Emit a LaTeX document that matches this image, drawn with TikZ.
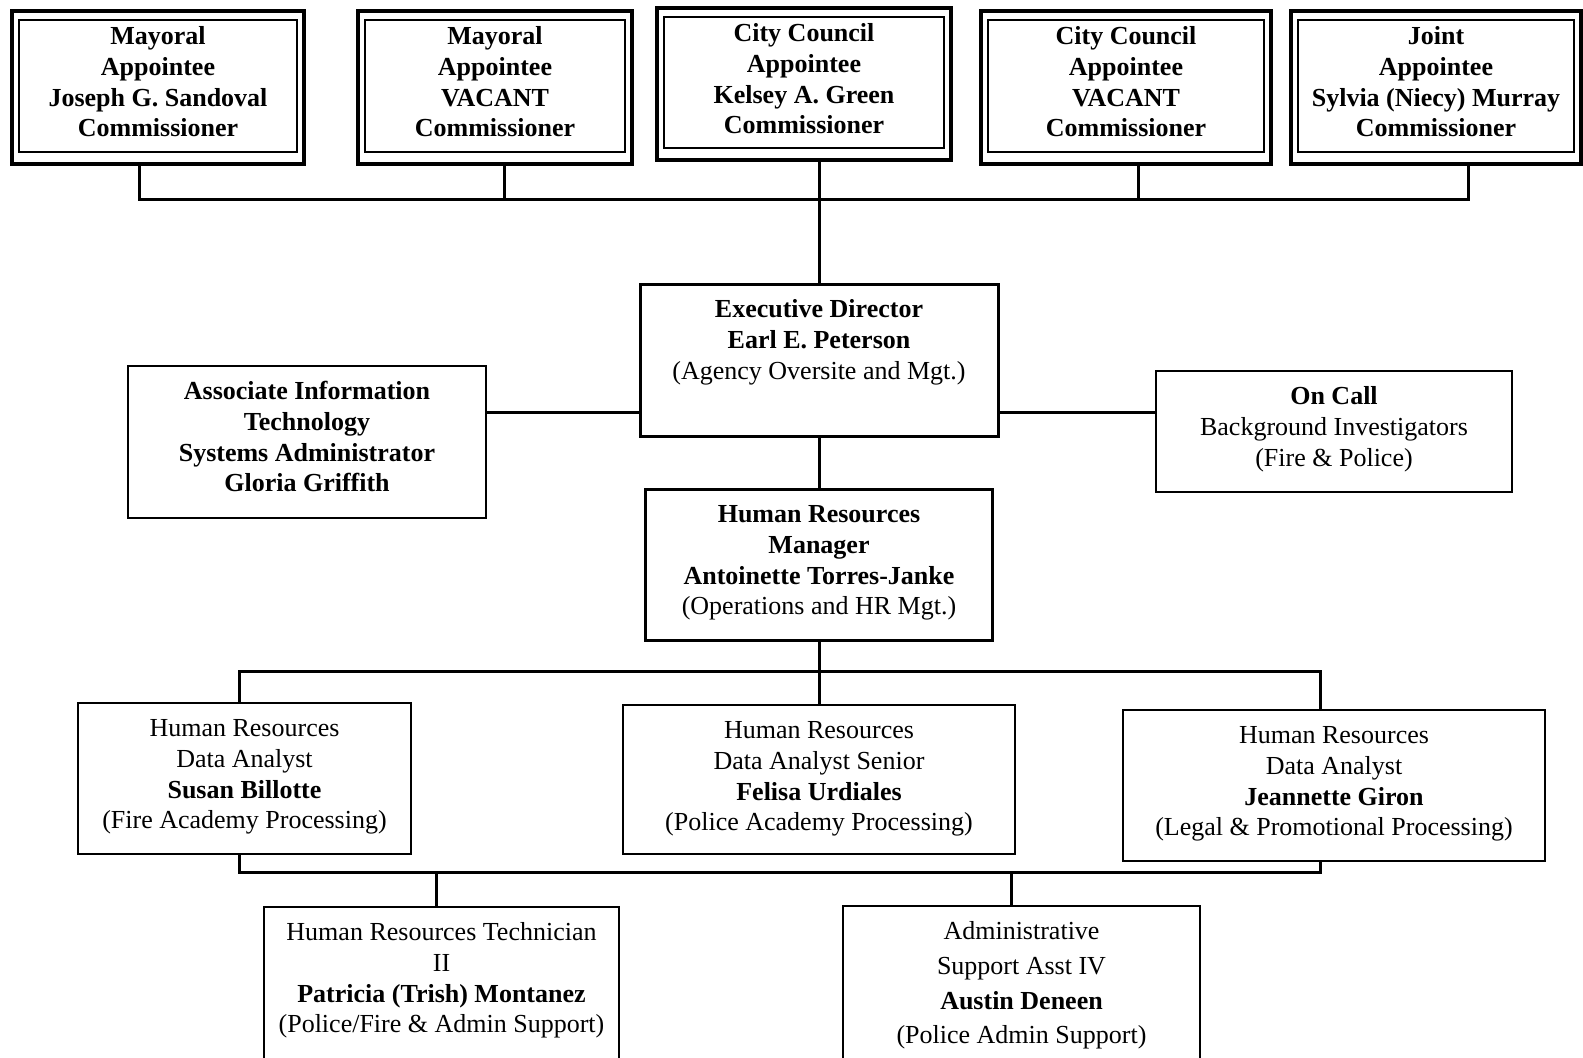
\documentclass[tikz,border=0pt]{standalone}
\usepackage{fontspec}
\setmainfont{Liberation Serif}
\usepackage{tikz}
\usetikzlibrary{positioning, calc}

\newlength{\pxu}
\setlength{\pxu}{0.5pt}
% box text: width, height (in px units), lines
\newcommand{\cardtxt}[3]{\parbox[c][#2\pxu][t]{#1\pxu}{\centering\vspace*{6pt}\strut#3}}

\begin{document}
\begin{tikzpicture}[
  x=0.5pt, y=-0.5pt,
  font=\fontsize{13pt}{15.4pt}\selectfont,
  card/.style={draw, line width=0.75pt, inner sep=0pt},
  keycard/.style={card, line width=1.5pt},
  topcard/.style={card, line width=2pt,
    font=\fontsize{13pt}{15.4pt}\selectfont\bfseries,
    path picture={\draw[line width=0.75pt]
      ([shift={(7,9)}]path picture bounding box.north west) rectangle
      ([shift={(-7,-12)}]path picture bounding box.south east);}},
  link/.style={line width=1.5pt},
]
  \clip (0,0) rectangle (1583,1057);

  % commissioners
  \node[topcard] (b1) at (158,87.5)
    {\cardtxt{292}{153}{Mayoral\\Appointee\\Joseph G. Sandoval\\Commissioner}};
  \node[topcard] (b2) at (495,87.5)
    {\cardtxt{274}{153}{Mayoral\\Appointee\\VACANT\\Commissioner}};
  \node[topcard] (b3) at (804,84)
    {\cardtxt{294}{152}{City Council\\Appointee\\Kelsey A. Green\\Commissioner}};
  \node[topcard] (b4) at (1126,87.5)
    {\cardtxt{290}{153}{City Council\\Appointee\\VACANT\\Commissioner}};
  \node[topcard] (b5) at (1436,87.5)
    {\cardtxt{290}{153}{Joint\\Appointee\\Sylvia (Niecy) Murray\\Commissioner}};

  % director row
  \node[keycard] (ed) at (819,360)
    {\cardtxt{358}{152}{\textbf{Executive Director}\\\textbf{Earl E. Peterson}\\(Agency Oversite and Mgt.)}};
  \node[card] (it) at (307,442)
    {\cardtxt{358}{152}{\bfseries Associate Information\\Technology\\Systems Administrator\\Gloria Griffith}};
  \node[card] (oc) at (1334,431.5)
    {\cardtxt{356}{121}{\textbf{On Call}\\Background Investigators\\(Fire \& Police)}};

  \node[keycard] (hr) at (819,564.5)
    {\cardtxt{347}{151}{\textbf{Human Resources}\\\textbf{Manager}\\\textbf{Antoinette Torres-Janke}\\(Operations and HR Mgt.)}};

  % analysts
  \node[card] (a1) at (244.5,778.5)
    {\cardtxt{333}{151}{Human Resources\\Data Analyst\\\textbf{Susan Billotte}\\(Fire Academy Processing)}};
  \node[card] (a2) at (819,779.5)
    {\cardtxt{392}{149}{Human Resources\\Data Analyst Senior\\\textbf{Felisa Urdiales}\\(Police Academy Processing)}};
  \node[card] (a3) at (1334,785.5)
    {\cardtxt{422}{151}{Human Resources\\Data Analyst\\\textbf{Jeannette Giron}\\(Legal \& Promotional Processing)}};

  % support staff
  \node[card] (tc) at (441.5,997)
    {\cardtxt{355}{180}{Human Resources Technician\\II\\\textbf{Patricia (Trish) Montanez}\\(Police/Fire \& Admin Support)}};
  \node[card] (ad) at (1021.5,996)
    {\cardtxt{357}{180}{Administrative\\[2pt]Support Asst IV\\[2pt]\textbf{Austin Deneen}\\[2pt](Police Admin Support)}};

  % connectors
  \draw[link] ($(b1.south)+(-19,0)$) |- ($(b5.south)+(32,33)$) -- ($(b5.south)+(32,0)$);
  \draw[link] ($(b2.south)+(9,0)$) -- +(0,33);
  \draw[link] ($(b4.south)+(12,0)$) -- +(0,33);
  \draw[link] ($(b3.south)+(15,0)$) -- (ed.north);

  \coordinate (midrow) at (0,412);
  \draw[link] (it.east |- midrow) -- (ed.west |- midrow);
  \draw[link] (ed.east |- midrow) -- (oc.west |- midrow);
  \draw[link] (ed.south) -- (hr.north);
  \draw[link] (hr.south) -- (a2.north);

  \draw[link] ($(a1.north)+(-5,0)$) |- ($(a3.north)+(-14,-38)$) -- ($(a3.north)+(-14,0)$);
  \draw[link] ($(a1.south)+(-5,0)$) |- ($(a3.south)+(-14,11)$) -- ($(a3.south)+(-14,0)$);
  \draw[link] ($(tc.north)+(-5,-35)$) -- ($(tc.north)+(-5,0)$);
  \draw[link] ($(ad.north)+(-10,-34)$) -- ($(ad.north)+(-10,0)$);
\end{tikzpicture}
\end{document}
